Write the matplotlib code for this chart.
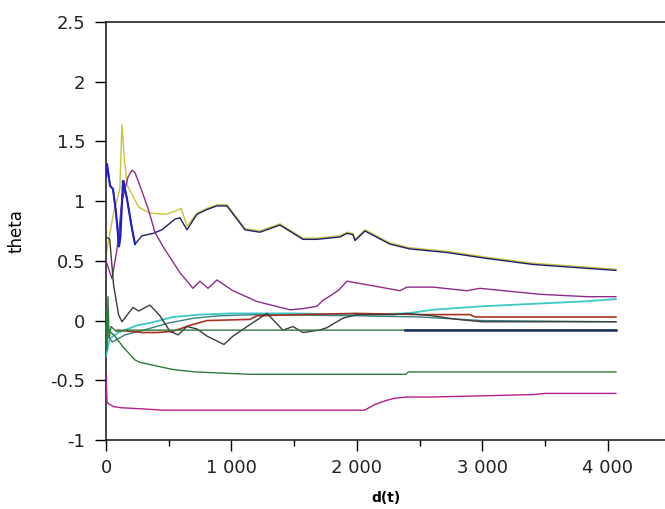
import matplotlib
matplotlib.use("Agg")
import matplotlib.pyplot as plt
from matplotlib.ticker import FixedLocator

plt.rcParams['font.family'] = ['DejaVu Sans']
plt.rcParams['axes.unicode_minus'] = False

# ---------------- data ----------------
yellow_x = [0, 60, 110, 127, 145, 170, 260, 350, 480, 560, 600, 645, 725, 805, 884, 964, 1108, 1227,
            1386, 1570, 1681, 1865, 1920, 1968, 1984, 2064, 2263, 2422, 2717, 3036, 3402, 3801, 4064]
yellow_y = [0.55, 0.9, 1.1, 1.64, 1.36, 1.13, 0.95, 0.90, 0.89, 0.92, 0.94, 0.79, 0.90, 0.94, 0.97, 0.97, 0.77, 0.75,
            0.81, 0.69, 0.69, 0.71, 0.74, 0.73, 0.68, 0.76, 0.65, 0.61, 0.58, 0.53, 0.48, 0.45, 0.43]

navy_x = [8, 32, 56, 80, 104, 127, 143, 167, 207, 231, 287, 375, 446, 550, 590, 645, 725, 805, 884, 964,
          1108, 1227, 1386, 1570, 1681, 1865, 1920, 1968, 1984, 2064, 2263, 2422, 2717, 3036, 3402, 3801, 4064]
navy_y = [1.31, 1.13, 1.10, 0.90, 0.62, 1.00, 1.17, 1.02, 0.77, 0.64, 0.71, 0.73, 0.76, 0.85, 0.86, 0.76, 0.89,
          0.93, 0.96, 0.96, 0.76, 0.74, 0.80, 0.68, 0.68, 0.70, 0.73, 0.72, 0.67, 0.75, 0.64, 0.60, 0.57, 0.52,
          0.47, 0.44, 0.42]

blue_x = [0, 8, 32, 56, 80, 104, 115, 135, 167, 207, 231]
blue_y = [1.2, 1.31, 1.13, 1.10, 0.90, 0.62, 0.70, 1.17, 1.02, 0.77, 0.64]

purple_x = [0, 48, 88, 127, 175, 207, 231, 287, 335, 390, 454, 590, 693, 749, 813, 884, 1012, 1203, 1466,
            1570, 1681, 1729, 1761, 1849, 1920, 2080, 2343, 2398, 2606, 2876, 2980, 3458, 3833, 4064]
purple_y = [0.50, 0.35, 0.60, 1.00, 1.20, 1.26, 1.24, 1.08, 0.94, 0.74, 0.62, 0.40, 0.27, 0.33, 0.27, 0.34,
            0.25, 0.16, 0.09, 0.10, 0.12, 0.17, 0.19, 0.25, 0.33, 0.30, 0.25, 0.28, 0.28, 0.25, 0.27, 0.22,
            0.20, 0.20]

cyan_x = [0, 30, 100, 250, 350, 534, 750, 1000, 1500, 2000, 2400, 2600, 3000, 3400, 3800, 4064]
cyan_y = [-0.30, -0.15, -0.10, -0.04, -0.02, 0.03, 0.05, 0.06, 0.06, 0.05, 0.06, 0.09, 0.12, 0.14, 0.16, 0.18]

teal_x = [0, 50, 150, 300, 500, 700, 900, 1200, 2000, 2500, 3000, 4064]
teal_y = [-0.10, -0.18, -0.12, -0.08, -0.02, 0.02, 0.04, 0.05, 0.04, 0.03, 0.00, -0.01]

red_x = [88, 295, 406, 534, 669, 805, 1147, 1203, 1546, 1984, 2502, 2900, 2940, 4064]
red_y = [-0.08, -0.10, -0.10, -0.09, -0.04, 0.00, 0.01, 0.04, 0.05, 0.06, 0.05, 0.05, 0.03, 0.03]

dark_x = [0, 30, 60, 100, 127, 215, 260, 350, 430, 510, 575, 645, 725, 805, 940, 1012, 1124, 1283, 1410,
          1490, 1570, 1700, 1760, 1888, 2000, 2300, 2400, 2600, 2800, 3000, 4064]
dark_y = [0.70, 0.68, 0.30, 0.05, -0.01, 0.11, 0.08, 0.13, 0.04, -0.09, -0.12, -0.05, -0.07, -0.13, -0.20,
          -0.13, -0.05, 0.06, -0.08, -0.05, -0.10, -0.08, -0.06, 0.02, 0.05, 0.05, 0.06, 0.04, 0.01, -0.01,
          -0.01]

green1_x = [0, 8, 16, 24, 40, 80, 150, 1000, 2000, 3000, 4064]
green1_y = [0.10, -0.25, 0.20, -0.15, -0.05, -0.09, -0.08, -0.08, -0.08, -0.08, -0.08]

navy2_x = [2380, 4064]
navy2_y = [-0.08, -0.08]

green2_x = [0, 40, 72, 135, 231, 271, 446, 534, 709, 1147, 2390, 2410, 4064]
green2_y = [-0.05, -0.10, -0.13, -0.22, -0.33, -0.35, -0.39, -0.41, -0.43, -0.45, -0.45, -0.43, -0.43]

magenta_x = [0, 8, 24, 60, 120, 300, 450, 1000, 2060, 2150, 2230, 2300, 2400, 2600, 3400, 3500, 4064]
magenta_y = [-0.45, -0.68, -0.70, -0.72, -0.73, -0.74, -0.75, -0.75, -0.75, -0.70, -0.67, -0.65, -0.64,
             -0.64, -0.62, -0.61, -0.61]

x_ticks = [0, 1000, 2000, 3000, 4000]
x_tick_labels = ["0", "1 000", "2 000", "3 000", "4 000"]
x_minor = [500, 1500, 2500, 3500]
y_ticks = [-1, -0.5, 0, 0.5, 1, 1.5, 2, 2.5]
y_tick_labels = ["-1", "-0.5", "0", "0.5", "1", "1.5", "2", "2.5"]

# ---------------- figure ----------------
W, H = 665, 509
fig = plt.figure(figsize=(W / 100, H / 100), dpi=100)
ax = fig.add_axes([106 / W, (H - 440) / H, (W - 106) / W, (440 - 22) / H])

lw = 1.0
ax.plot(yellow_x, yellow_y, color='#c8c23a', lw=lw, zorder=2)
ax.plot(navy_x, navy_y, color='#1e1e6a', lw=lw, zorder=3)
ax.plot(purple_x, purple_y, color='#8e2c8a', lw=lw, zorder=3)
ax.plot(cyan_x, cyan_y, color='#3cc8c8', lw=1.3, zorder=3)
ax.plot(teal_x, teal_y, color='#3a8080', lw=lw, zorder=3)
ax.plot(red_x, red_y, color='#a83222', lw=1.2, zorder=4)
ax.plot(dark_x, dark_y, color='#3c3c3c', lw=lw, zorder=4)
ax.plot(green1_x, green1_y, color='#2c7a3a', lw=lw, zorder=4)
ax.plot(navy2_x, navy2_y, color='#1c2c5c', lw=1.8, zorder=5)
ax.plot(green2_x, green2_y, color='#2c7a3a', lw=lw, zorder=4)
ax.plot(magenta_x, magenta_y, color='#b0208e', lw=lw, zorder=4)
ax.plot(blue_x, blue_y, color='#2020c8', lw=1.5, zorder=5)

ax.set_xlim(0, 4455)
ax.set_ylim(-1, 2.5)

ax.xaxis.set_major_locator(FixedLocator(x_ticks))
ax.set_xticklabels(x_tick_labels)
ax.xaxis.set_minor_locator(FixedLocator(x_minor))
ax.yaxis.set_major_locator(FixedLocator(y_ticks))
ax.set_yticklabels(y_tick_labels)

ax.spines['right'].set_visible(False)
for s in ['left', 'bottom', 'top']:
    ax.spines[s].set_linewidth(1.1)
    ax.spines[s].set_color('#111111')

ax.tick_params(axis='x', which='major', direction='out', length=8, width=1.0,
               labelsize=13, pad=6, labelcolor='#222222')
ax.tick_params(axis='x', which='minor', direction='out', length=4, width=1.0)
ax.tick_params(axis='y', which='major', direction='out', length=8, width=1.0,
               labelsize=13, pad=7, labelcolor='#222222')

ax.set_xlabel('d(t)', fontsize=10, fontweight='bold', labelpad=10)
ax.set_ylabel('theta', fontsize=12, labelpad=18)

fig.savefig('out.png', dpi=100)
